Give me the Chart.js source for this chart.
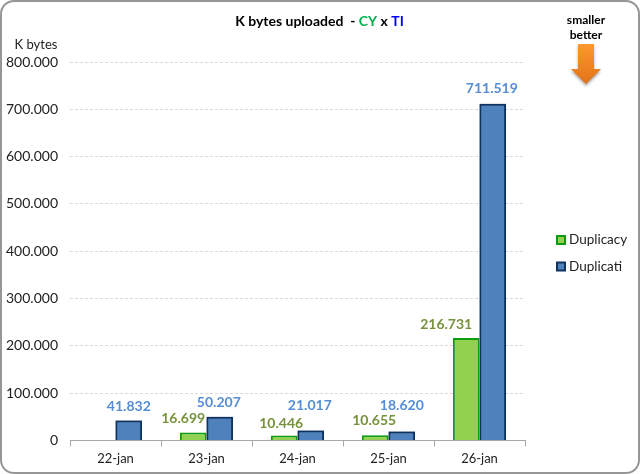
<!DOCTYPE html>
<html>
<head>
<meta charset="utf-8">
<script src="https://cdn.jsdelivr.net/npm/chart.js@4/dist/chart.umd.min.js"></script>
<style>
    html, body { margin: 0; padding: 0; background: #fff; }
    .frame { position: absolute; left: 0; top: 0; width: 636px; height: 470px; border: 2px solid #969696; border-radius: 14px; overflow: hidden; }
    canvas { position: absolute; left: -2px; top: -2px; }
</style>
</head>
<body>
<div class="frame"><canvas id="chart" width="640" height="474"></canvas></div>
<script>
"use strict";

const days = ["22-jan", "23-jan", "24-jan", "25-jan", "26-jan"];
const duplicacy = [null, 16699, 10446, 10655, 216731];
const duplicati = [41832, 50207, 21017, 18620, 711519];

// hand placed offsets of the value labels, the original has them moved around
const greenShift = [[0, 0], [-10, -5], [-3, -3], [-1, -6], [-20, -4]];
const blueShift = [[0, -5], [-1, -5], [-1, -16], [0, -17], [-1, -6]];

const fontName = "Lato, 'Open Sans', sans-serif";

function dotted(v) {
    return String(v).replace(/\B(?=(\d{3})+$)/g, ".");
}

const extras = {
    id: "extras",
    afterDatasetsDraw(chart) {
        const ctx = chart.ctx;
        ctx.save();

        // the blue bars sit on top of the green ones
        chart.getDatasetMeta(1).data.forEach(bar => bar.draw(ctx));

        ctx.textBaseline = "middle";

        // value labels
        ctx.textAlign = "center";
        ctx.font = "bold 14px " + fontName;
        [[0, "#76923c", greenShift], [1, "#558ed5", blueShift]].forEach(([idx, col, shift]) => {
            ctx.fillStyle = col;
            chart.getDatasetMeta(idx).data.forEach((bar, i) => {
                const v = chart.data.datasets[idx].data[i];
                if (v === null) return;
                ctx.fillText(dotted(v), bar.x + shift[i][0], bar.y - 9 + shift[i][1]);
            });
        });

        // title with coloured names
        const parts = [["K bytes uploaded  - ", "#000"], ["CY", "#00b050"], [" x ", "#000"], ["TI", "#0000ff"]];
        ctx.font = "bold 14px " + fontName;
        let total = 0;
        parts.forEach(p => total += ctx.measureText(p[0]).width);
        let x = 319.5 - total / 2;
        ctx.textAlign = "left";
        parts.forEach(p => {
            ctx.fillStyle = p[1];
            ctx.fillText(p[0], x, 21);
            x += ctx.measureText(p[0]).width;
        });

        // legend
        ctx.font = "13.5px " + fontName;
        chart.data.datasets.forEach((ds, i) => {
            const y = 240 + i * 26.5;
            ctx.fillStyle = ds.backgroundColor;
            ctx.strokeStyle = ds.borderColor;
            ctx.lineWidth = 2;
            ctx.fillRect(557, y - 4, 8, 8);
            ctx.strokeRect(557, y - 4, 8, 8);
            ctx.fillStyle = "#222";
            ctx.fillText(ds.label, 569, y);
        });

        // unit above the axis
        ctx.fillStyle = "#222";
        ctx.font = "13px " + fontName;
        ctx.textAlign = "center";
        ctx.fillText("K bytes", 36, 45);

        // note and arrow
        ctx.fillStyle = "#000";
        ctx.font = "bold 12px " + fontName;
        ctx.fillText("smaller", 586, 20);
        ctx.fillText("better", 586, 35);

        const grad = ctx.createLinearGradient(0, 44, 0, 84);
        grad.addColorStop(0, "#ff982e");
        grad.addColorStop(1, "#e0731a");
        ctx.fillStyle = grad;
        ctx.shadowColor = "rgba(0,0,0,0.35)";
        ctx.shadowBlur = 3;
        ctx.shadowOffsetY = 2;
        ctx.beginPath();
        ctx.moveTo(578, 44);
        ctx.lineTo(594, 44);
        ctx.lineTo(594, 69);
        ctx.lineTo(601, 69);
        ctx.lineTo(586, 84);
        ctx.lineTo(571, 69);
        ctx.lineTo(578, 69);
        ctx.closePath();
        ctx.fill();
        ctx.restore();
    }
};

new Chart(document.getElementById("chart"), {
    type: "bar",
    data: {
        labels: days,
        datasets: [
            {
                label: "Duplicacy",
                data: duplicacy,
                backgroundColor: "#92d050",
                borderColor: "#0f9a0f",
                borderWidth: 2
            },
            {
                label: "Duplicati",
                data: duplicati,
                backgroundColor: "#4f81bd",
                borderColor: "#10325f",
                borderWidth: 2
            }
        ]
    },
    options: {
        responsive: false,
        animation: false,
        layout: { padding: { top: 62, left: 0, right: 115, bottom: 2 } },
        categoryPercentage: 0.585,
        barPercentage: 1,
        scales: {
            x: {
                grid: { drawOnChartArea: false, color: "#a6a6a6", tickLength: 6 },
                border: { color: "#a6a6a6" },
                ticks: { color: "#222", font: { family: fontName, size: 13 }, padding: 5, maxRotation: 0 }
            },
            y: {
                min: 0,
                max: 800000,
                afterFit(scale) { scale.width = 70; },
                grid: { color: "#d9d9d9", drawTicks: false },
                border: { display: false, dash: [3, 2] },
                ticks: {
                    stepSize: 100000,
                    color: "#222",
                    padding: 12,
                    font: { family: fontName, size: 14 },
                    callback: v => dotted(v)
                }
            }
        },
        plugins: {
            title: { display: false },
            tooltip: { enabled: false },
            legend: { display: false }
        }
    },
    plugins: [extras]
});
</script>
</body>
</html>
